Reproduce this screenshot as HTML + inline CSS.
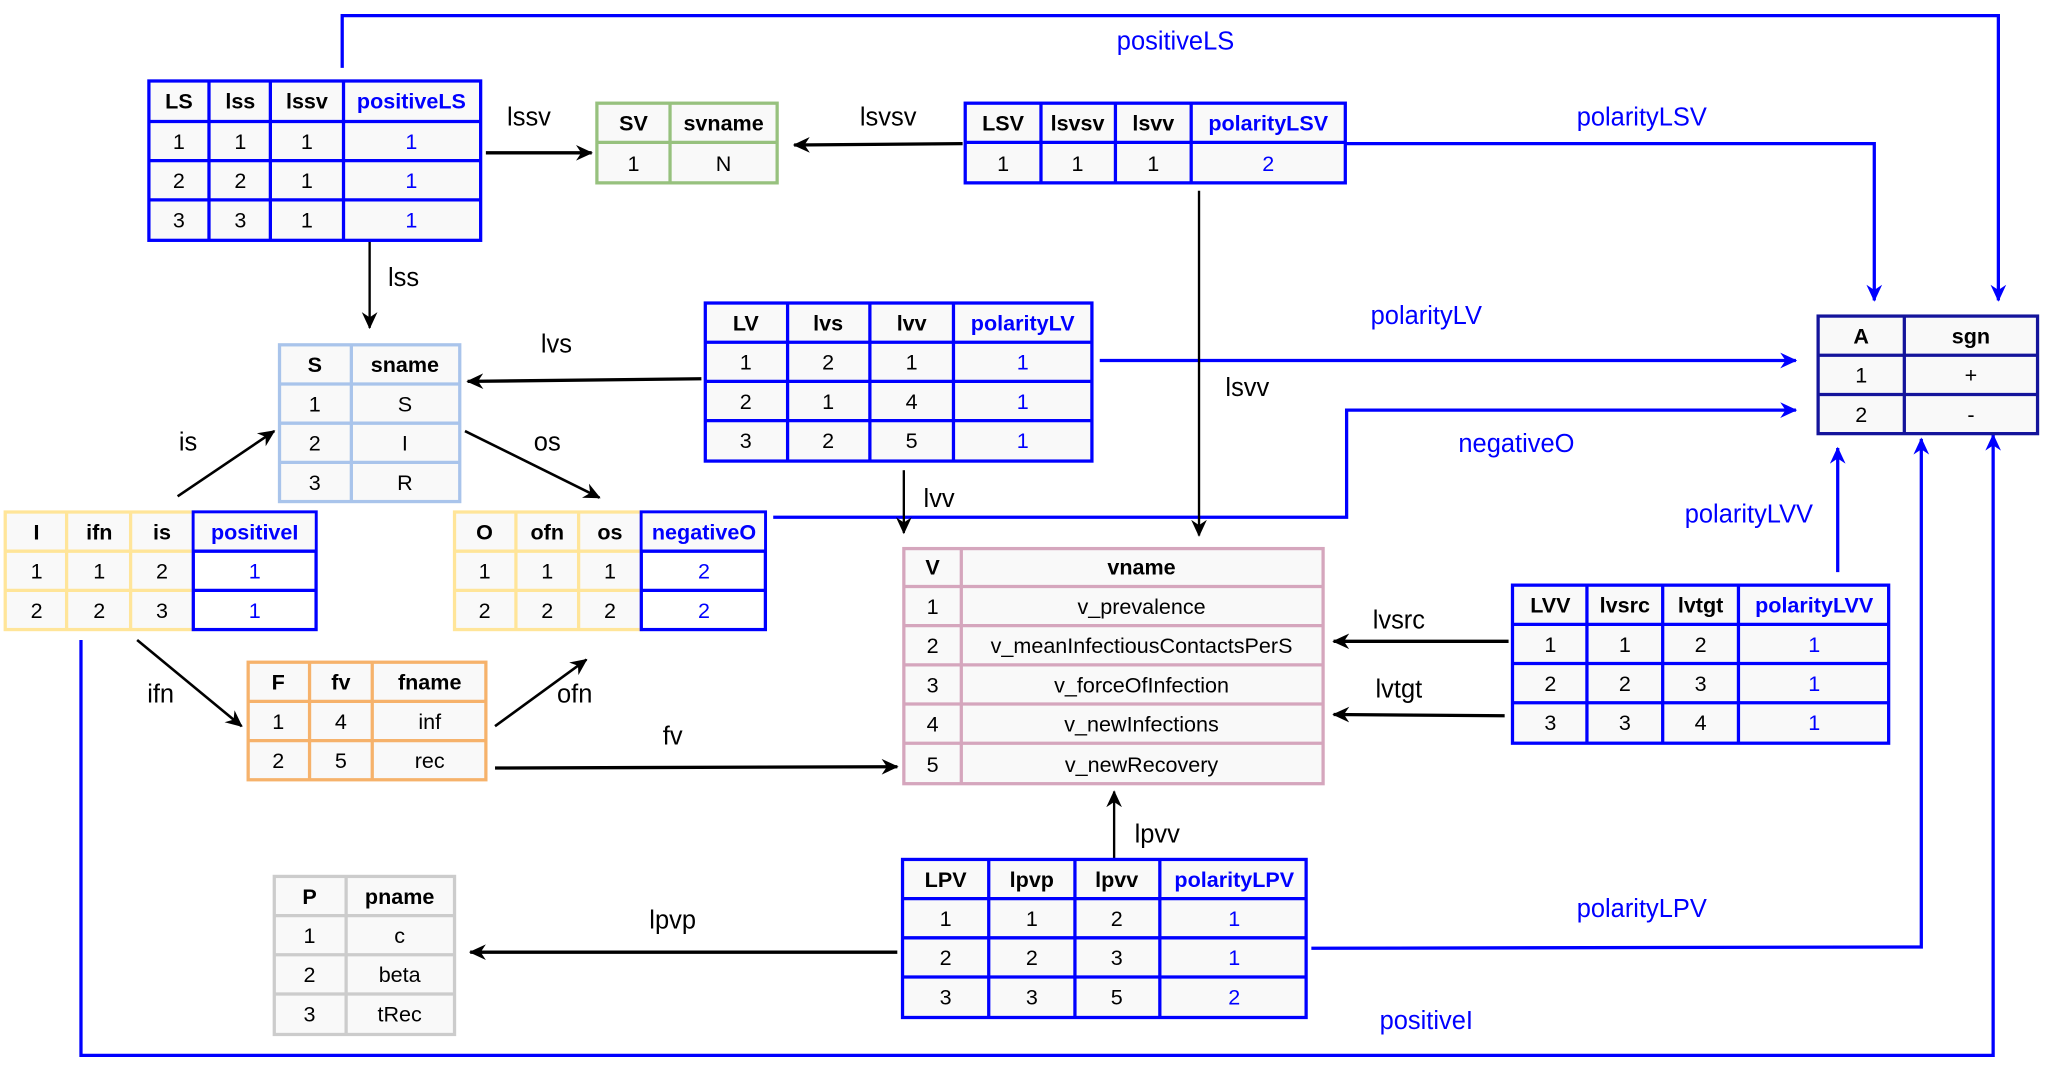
<!DOCTYPE html>
<html><head><meta charset="utf-8"><style>
html,body{margin:0;padding:0;background:#fff;width:2048px;height:1073px;overflow:hidden}
svg{display:block}
text{font-family:"Liberation Sans",Arial,sans-serif;font-size:16.5px;text-anchor:middle}
.h{font-weight:bold}
.b{fill:#0000ff}
.lb{font-size:19.5px;text-anchor:middle}
</style></head><body>
<svg width="2048" height="1073" viewBox="0 0 1568 821.5" preserveAspectRatio="none">
<defs>
<marker id="ak" markerWidth="14" markerHeight="14" refX="12" refY="7" orient="auto" markerUnits="userSpaceOnUse"><path d="M0,1 L13,7 L0,13 L4,7 z" fill="#000"/></marker>
<marker id="ab" markerWidth="14" markerHeight="14" refX="12" refY="7" orient="auto" markerUnits="userSpaceOnUse"><path d="M0,1 L13,7 L0,13 L4,7 z" fill="#0000ff"/></marker>
</defs>

<!-- blue connectors -->
<g fill="none" stroke="#0000ff" stroke-width="2.5">
<polyline points="262,52 262,12 1530,12 1530,230" marker-end="url(#ab)"/>
<polyline points="1030,110 1435,110 1435,230" marker-end="url(#ab)"/>
<polyline points="842,276 1375,276" marker-end="url(#ab)"/>
<polyline points="592,396 1031,396 1031,314 1375,314" marker-end="url(#ab)"/>
<polyline points="1407,438 1407,343" marker-end="url(#ab)"/>
<polyline points="1004,726 1471,725 1471,336" marker-end="url(#ab)"/>
<polyline points="62,490 62,808 1526,808 1526,333" marker-end="url(#ab)"/>
</g>
<!-- black connectors -->
<g fill="none" stroke="#000" stroke-width="2.5">
<line x1="372" y1="117" x2="453" y2="117" marker-end="url(#ak)"/>
<line x1="737" y1="110" x2="608" y2="111" marker-end="url(#ak)"/>
<line x1="918" y1="146" x2="918" y2="410" stroke-width="1.8" marker-end="url(#ak)"/>
<line x1="283" y1="184" x2="283" y2="251" stroke-width="1.8" marker-end="url(#ak)"/>
<line x1="537" y1="290" x2="358" y2="292" marker-end="url(#ak)"/>
<line x1="136" y1="380" x2="210" y2="330" stroke-width="2" marker-end="url(#ak)"/>
<line x1="356" y1="330" x2="459" y2="381" stroke-width="2" marker-end="url(#ak)"/>
<line x1="692" y1="360" x2="692" y2="408" stroke-width="1.8" marker-end="url(#ak)"/>
<line x1="105" y1="490" x2="185" y2="556" stroke-width="2" marker-end="url(#ak)"/>
<line x1="379" y1="556" x2="449" y2="505" stroke-width="2" marker-end="url(#ak)"/>
<line x1="379" y1="588" x2="687" y2="587" marker-end="url(#ak)"/>
<line x1="1155" y1="491" x2="1021" y2="491" marker-end="url(#ak)"/>
<line x1="1152" y1="548" x2="1021" y2="547" marker-end="url(#ak)"/>
<line x1="853" y1="658" x2="853" y2="606" stroke-width="1.8" marker-end="url(#ak)"/>
<line x1="687" y1="729" x2="360" y2="729" marker-end="url(#ak)"/>
</g>

<!-- labels -->
<g class="lb">
<text x="900" y="38" class="b lb">positiveLS</text>
<text x="1257" y="96" class="b lb">polarityLSV</text>
<text x="1092" y="248" class="b lb">polarityLV</text>
<text x="1161" y="346" class="b lb">negativeO</text>
<text x="1339" y="400" class="b lb">polarityLVV</text>
<text x="1257" y="702" class="b lb">polarityLPV</text>
<text x="1092" y="788" class="b lb">positiveI</text>
<text x="405" y="96" class="lb">lssv</text>
<text x="680" y="96" class="lb">lsvsv</text>
<text x="955" y="303" class="lb">lsvv</text>
<text x="309" y="219" class="lb">lss</text>
<text x="426" y="270" class="lb">lvs</text>
<text x="144" y="345" class="lb">is</text>
<text x="419" y="345" class="lb">os</text>
<text x="719" y="388" class="lb">lvv</text>
<text x="123" y="538" class="lb">ifn</text>
<text x="440" y="538" class="lb">ofn</text>
<text x="515" y="570" class="lb">fv</text>
<text x="1071" y="481" class="lb">lvsrc</text>
<text x="1071" y="534" class="lb">lvtgt</text>
<text x="886" y="645" class="lb">lpvv</text>
<text x="515" y="711" class="lb">lpvp</text>
</g>

<!-- LS table -->
<g>
<rect x="114" y="62" width="254" height="122" fill="#f9f9f9" stroke="#0000ff" stroke-width="2.5"/>
<g stroke="#0000ff" stroke-width="2.5"><line x1="160" y1="62" x2="160" y2="184"/><line x1="207" y1="62" x2="207" y2="184"/><line x1="263" y1="62" x2="263" y2="184"/>
<line x1="114" y1="93" x2="368" y2="93"/><line x1="114" y1="123" x2="368" y2="123"/><line x1="114" y1="153" x2="368" y2="153"/></g>
<text x="137" y="83" class="h">LS</text><text x="184" y="83" class="h">lss</text><text x="235" y="83" class="h">lssv</text><text x="315" y="83" class="h b">positiveLS</text>
<text x="137" y="114">1</text><text x="184" y="114">1</text><text x="235" y="114">1</text><text x="315" y="114" class="b">1</text>
<text x="137" y="144">2</text><text x="184" y="144">2</text><text x="235" y="144">1</text><text x="315" y="144" class="b">1</text>
<text x="137" y="174">3</text><text x="184" y="174">3</text><text x="235" y="174">1</text><text x="315" y="174" class="b">1</text>
</g>

<!-- SV table -->
<g>
<rect x="457" y="79" width="138" height="61" fill="#f9f9f9" stroke="#97c17e" stroke-width="2.5"/>
<g stroke="#97c17e" stroke-width="2.5"><line x1="513" y1="79" x2="513" y2="140"/><line x1="457" y1="109" x2="595" y2="109"/></g>
<text x="485" y="100" class="h">SV</text><text x="554" y="100" class="h">svname</text>
<text x="485" y="131">1</text><text x="554" y="131">N</text>
</g>

<!-- LSV table -->
<g>
<rect x="739" y="79" width="291" height="61" fill="#f9f9f9" stroke="#0000ff" stroke-width="2.5"/>
<g stroke="#0000ff" stroke-width="2.5"><line x1="797" y1="79" x2="797" y2="140"/><line x1="854" y1="79" x2="854" y2="140"/><line x1="912" y1="79" x2="912" y2="140"/><line x1="739" y1="109" x2="1030" y2="109"/></g>
<text x="768" y="100" class="h">LSV</text><text x="825" y="100" class="h">lsvsv</text><text x="883" y="100" class="h">lsvv</text><text x="971" y="100" class="h b">polarityLSV</text>
<text x="768" y="131">1</text><text x="825" y="131">1</text><text x="883" y="131">1</text><text x="971" y="131" class="b">2</text>
</g>

<!-- S table -->
<g>
<rect x="214" y="264" width="138" height="120" fill="#f9f9f9" stroke="#a9c4eb" stroke-width="2.5"/>
<g stroke="#a9c4eb" stroke-width="2.5"><line x1="269" y1="264" x2="269" y2="384"/><line x1="214" y1="294" x2="352" y2="294"/><line x1="214" y1="324" x2="352" y2="324"/><line x1="214" y1="354" x2="352" y2="354"/></g>
<text x="241" y="285" class="h">S</text><text x="310" y="285" class="h">sname</text>
<text x="241" y="315">1</text><text x="310" y="315">S</text>
<text x="241" y="345">2</text><text x="310" y="345">I</text>
<text x="241" y="375">3</text><text x="310" y="375">R</text>
</g>

<!-- LV table -->
<g>
<rect x="540" y="232" width="296" height="121" fill="#f9f9f9" stroke="#0000ff" stroke-width="2.5"/>
<g stroke="#0000ff" stroke-width="2.5"><line x1="603" y1="232" x2="603" y2="353"/><line x1="666" y1="232" x2="666" y2="353"/><line x1="730" y1="232" x2="730" y2="353"/>
<line x1="540" y1="262" x2="836" y2="262"/><line x1="540" y1="292" x2="836" y2="292"/><line x1="540" y1="322" x2="836" y2="322"/></g>
<text x="571" y="253" class="h">LV</text><text x="634" y="253" class="h">lvs</text><text x="698" y="253" class="h">lvv</text><text x="783" y="253" class="h b">polarityLV</text>
<text x="571" y="283">1</text><text x="634" y="283">2</text><text x="698" y="283">1</text><text x="783" y="283" class="b">1</text>
<text x="571" y="313">2</text><text x="634" y="313">1</text><text x="698" y="313">4</text><text x="783" y="313" class="b">1</text>
<text x="571" y="343">3</text><text x="634" y="343">2</text><text x="698" y="343">5</text><text x="783" y="343" class="b">1</text>
</g>

<!-- I table -->
<g>
<rect x="4" y="392" width="144" height="90" fill="#f9f9f9" stroke="#ffe599" stroke-width="2.5"/>
<g stroke="#ffe599" stroke-width="2.5"><line x1="51" y1="392" x2="51" y2="482"/><line x1="100" y1="392" x2="100" y2="482"/><line x1="4" y1="422" x2="148" y2="422"/><line x1="4" y1="452" x2="148" y2="452"/></g>
<rect x="148" y="392" width="94" height="90" fill="#fff" stroke="#0000ff" stroke-width="2.5"/>
<rect x="149" y="393" width="92" height="28" fill="#f9f9f9"/>
<g stroke="#0000ff" stroke-width="2.5"><line x1="148" y1="422" x2="242" y2="422"/><line x1="148" y1="452" x2="242" y2="452"/></g>
<text x="28" y="413" class="h">I</text><text x="76" y="413" class="h">ifn</text><text x="124" y="413" class="h">is</text><text x="195" y="413" class="h b">positiveI</text>
<text x="28" y="443">1</text><text x="76" y="443">1</text><text x="124" y="443">2</text><text x="195" y="443" class="b">1</text>
<text x="28" y="473">2</text><text x="76" y="473">2</text><text x="124" y="473">3</text><text x="195" y="473" class="b">1</text>
</g>

<!-- O table -->
<g>
<rect x="348" y="392" width="143" height="90" fill="#f9f9f9" stroke="#ffe599" stroke-width="2.5"/>
<g stroke="#ffe599" stroke-width="2.5"><line x1="395" y1="392" x2="395" y2="482"/><line x1="443" y1="392" x2="443" y2="482"/><line x1="348" y1="422" x2="491" y2="422"/><line x1="348" y1="452" x2="491" y2="452"/></g>
<rect x="491" y="392" width="95" height="90" fill="#fff" stroke="#0000ff" stroke-width="2.5"/>
<rect x="492" y="393" width="93" height="28" fill="#f9f9f9"/>
<g stroke="#0000ff" stroke-width="2.5"><line x1="491" y1="422" x2="586" y2="422"/><line x1="491" y1="452" x2="586" y2="452"/></g>
<text x="371" y="413" class="h">O</text><text x="419" y="413" class="h">ofn</text><text x="467" y="413" class="h">os</text><text x="539" y="413" class="h b">negativeO</text>
<text x="371" y="443">1</text><text x="419" y="443">1</text><text x="467" y="443">1</text><text x="539" y="443" class="b">2</text>
<text x="371" y="473">2</text><text x="419" y="473">2</text><text x="467" y="473">2</text><text x="539" y="473" class="b">2</text>
</g>

<!-- V table -->
<g>
<rect x="692" y="420" width="321" height="180" fill="#f9f9f9" stroke="#d5a6bd" stroke-width="2.5"/>
<g stroke="#d5a6bd" stroke-width="2.5"><line x1="736" y1="420" x2="736" y2="600"/>
<line x1="692" y1="449" x2="1013" y2="449"/><line x1="692" y1="479" x2="1013" y2="479"/><line x1="692" y1="509" x2="1013" y2="509"/><line x1="692" y1="539" x2="1013" y2="539"/><line x1="692" y1="569" x2="1013" y2="569"/></g>
<text x="714" y="440" class="h">V</text><text x="874" y="440" class="h">vname</text>
<text x="714" y="470">1</text><text x="874" y="470">v_prevalence</text>
<text x="714" y="500">2</text><text x="874" y="500">v_meanInfectiousContactsPerS</text>
<text x="714" y="530">3</text><text x="874" y="530">v_forceOfInfection</text>
<text x="714" y="560">4</text><text x="874" y="560">v_newInfections</text>
<text x="714" y="591">5</text><text x="874" y="591">v_newRecovery</text>
</g>

<!-- F table -->
<g>
<rect x="190" y="507" width="182" height="90" fill="#f9f9f9" stroke="#f6b26b" stroke-width="2.5"/>
<g stroke="#f6b26b" stroke-width="2.5"><line x1="237" y1="507" x2="237" y2="597"/><line x1="285" y1="507" x2="285" y2="597"/><line x1="190" y1="537" x2="372" y2="537"/><line x1="190" y1="567" x2="372" y2="567"/></g>
<text x="213" y="528" class="h">F</text><text x="261" y="528" class="h">fv</text><text x="329" y="528" class="h">fname</text>
<text x="213" y="558">1</text><text x="261" y="558">4</text><text x="329" y="558">inf</text>
<text x="213" y="588">2</text><text x="261" y="588">5</text><text x="329" y="588">rec</text>
</g>

<!-- A table -->
<g>
<rect x="1392" y="242" width="168" height="90" fill="#f9f9f9" stroke="#14149b" stroke-width="2.5"/>
<g stroke="#14149b" stroke-width="2.5"><line x1="1458" y1="242" x2="1458" y2="332"/><line x1="1392" y1="272" x2="1560" y2="272"/><line x1="1392" y1="302" x2="1560" y2="302"/></g>
<text x="1425" y="263" class="h">A</text><text x="1509" y="263" class="h">sgn</text>
<text x="1425" y="293">1</text><text x="1509" y="293">+</text>
<text x="1425" y="323">2</text><text x="1509" y="323">-</text>
</g>

<!-- LVV table -->
<g>
<rect x="1158" y="448" width="288" height="121" fill="#f9f9f9" stroke="#0000ff" stroke-width="2.5"/>
<g stroke="#0000ff" stroke-width="2.5"><line x1="1215" y1="448" x2="1215" y2="569"/><line x1="1273" y1="448" x2="1273" y2="569"/><line x1="1331" y1="448" x2="1331" y2="569"/>
<line x1="1158" y1="478" x2="1446" y2="478"/><line x1="1158" y1="508" x2="1446" y2="508"/><line x1="1158" y1="538" x2="1446" y2="538"/></g>
<text x="1187" y="469" class="h">LVV</text><text x="1244" y="469" class="h">lvsrc</text><text x="1302" y="469" class="h">lvtgt</text><text x="1389" y="469" class="h b">polarityLVV</text>
<text x="1187" y="499">1</text><text x="1244" y="499">1</text><text x="1302" y="499">2</text><text x="1389" y="499" class="b">1</text>
<text x="1187" y="529">2</text><text x="1244" y="529">2</text><text x="1302" y="529">3</text><text x="1389" y="529" class="b">1</text>
<text x="1187" y="559">3</text><text x="1244" y="559">3</text><text x="1302" y="559">4</text><text x="1389" y="559" class="b">1</text>
</g>

<!-- LPV table -->
<g>
<rect x="691" y="658" width="309" height="121" fill="#f9f9f9" stroke="#0000ff" stroke-width="2.5"/>
<g stroke="#0000ff" stroke-width="2.5"><line x1="757" y1="658" x2="757" y2="779"/><line x1="823" y1="658" x2="823" y2="779"/><line x1="888" y1="658" x2="888" y2="779"/>
<line x1="691" y1="688" x2="1000" y2="688"/><line x1="691" y1="718" x2="1000" y2="718"/><line x1="691" y1="748" x2="1000" y2="748"/></g>
<text x="724" y="679" class="h">LPV</text><text x="790" y="679" class="h">lpvp</text><text x="855" y="679" class="h">lpvv</text><text x="945" y="679" class="h b">polarityLPV</text>
<text x="724" y="709">1</text><text x="790" y="709">1</text><text x="855" y="709">2</text><text x="945" y="709" class="b">1</text>
<text x="724" y="739">2</text><text x="790" y="739">2</text><text x="855" y="739">3</text><text x="945" y="739" class="b">1</text>
<text x="724" y="769">3</text><text x="790" y="769">3</text><text x="855" y="769">5</text><text x="945" y="769" class="b">2</text>
</g>

<!-- P table -->
<g>
<rect x="210" y="671" width="138" height="121" fill="#f9f9f9" stroke="#cccccc" stroke-width="2.5"/>
<g stroke="#cccccc" stroke-width="2.5"><line x1="265" y1="671" x2="265" y2="792"/><line x1="210" y1="701" x2="348" y2="701"/><line x1="210" y1="731" x2="348" y2="731"/><line x1="210" y1="761" x2="348" y2="761"/></g>
<text x="237" y="692" class="h">P</text><text x="306" y="692" class="h">pname</text>
<text x="237" y="722">1</text><text x="306" y="722">c</text>
<text x="237" y="752">2</text><text x="306" y="752">beta</text>
<text x="237" y="782">3</text><text x="306" y="782">tRec</text>
</g>
</svg>
</body></html>
